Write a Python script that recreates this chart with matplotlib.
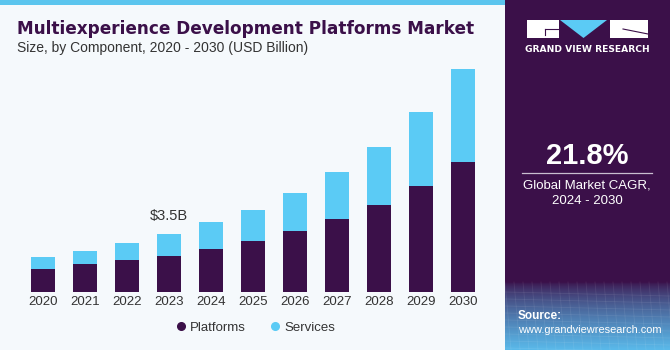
# grafico de barras empilhadas - mercado de plataformas multiexperiencia
import numpy as np
import matplotlib
matplotlib.use('Agg')
import matplotlib.pyplot as plt
from matplotlib.lines import Line2D
from matplotlib.patches import Rectangle, Polygon

anos = ['2020', '2021', '2022', '2023', '2024', '2025', '2026', '2027', '2028', '2029', '2030']
plataformas = [1.37, 1.67, 1.91, 2.17, 2.58, 3.08, 3.66, 4.37, 5.23, 6.38, 7.84]
servicos = [0.74, 0.79, 1.03, 1.33, 1.62, 1.85, 2.28, 2.83, 3.52, 4.46, 5.58]
destaque_ano = '2023'
destaque_txt = '\\$3.5B'
cagr = '21.8%'

roxo = '#3b1049'
azul = '#5bcbf5'
fundo = '#f5f9fc'
cinza = '#333333'

W, H = 670, 350
fig = plt.figure(figsize=(W / 100, H / 100), dpi=100)
fig.patch.set_facecolor(fundo)

# camada de fundo em pixels (painel lateral, faixa do topo)
bg = fig.add_axes([0, 0, 1, 1])
bg.set_xlim(0, W)
bg.set_ylim(H, 0)
bg.axis('off')
bg.add_patch(Rectangle((0, 0), 505, 5, color='#5bc5ee', lw=0))
bg.add_patch(Rectangle((505, 0), W - 505, H, color=roxo, lw=0))
# gradiente da parte de baixo do painel
grad = np.linspace(0, 1, 100).reshape(-1, 1)
c0 = np.array(matplotlib.colors.to_rgb(roxo))
c1 = np.array(matplotlib.colors.to_rgb('#5ab9ea'))
img = c0 + (c1 - c0) * grad[:, :, None] ** 0.7
bg.imshow(img, extent=[505, W, H, 282], aspect='auto', zorder=1)
for yy in np.arange(292, 350, 7):
    bg.plot([505, W], [yy, yy + 4], color='white', alpha=0.08, lw=0.6, zorder=2)
for xx in np.arange(505, W, 9):
    bg.plot([xx, xx + 6], [282, H], color='white', alpha=0.08, lw=0.6, zorder=2)
bg.set_xlim(0, W)
bg.set_ylim(H, 0)

# logo
bg.add_patch(Rectangle((527, 20), 32, 18, color='white', lw=0, zorder=3))
bg.plot([545, 559], [29, 29], color=roxo, lw=0.8, zorder=4)
bg.plot([545, 545], [29, 35], color=roxo, lw=0.8, zorder=4)
bg.add_patch(Polygon([[560, 20], [607, 20], [583.5, 38]], color=azul, lw=0, zorder=3))
bg.add_patch(Rectangle((610, 20), 38, 18, color='white', lw=0, zorder=3))
bg.plot([623, 648], [29, 34], color=roxo, lw=0.8, zorder=4)
bg.text(587.5, 50, 'GRAND VIEW RESEARCH', color='white', fontsize=6.6, fontweight='bold',
        ha='center', va='center', family='DejaVu Sans', zorder=4)

bg.text(587, 156, cagr, color='white', fontsize=21, fontweight='bold', ha='center', va='center',
        family='Liberation Sans', zorder=4)
bg.plot([522, 652], [173.3, 173.3], color='#c9bfd0', lw=0.9, zorder=4)
bg.text(587, 185, 'Global Market CAGR,', color='white', fontsize=9.5, ha='center', va='center',
        family='Liberation Sans', zorder=4)
bg.text(587, 201, '2024 - 2030', color='white', fontsize=9.5, ha='center', va='center',
        family='Liberation Sans', zorder=4)
bg.text(518, 316, 'Source:', color='white', fontsize=8.5, fontweight='bold', ha='left', va='center',
        family='Liberation Sans', zorder=4)
bg.text(518, 330, 'www.grandviewresearch.com', color='white', fontsize=7.9, ha='left', va='center',
        family='Liberation Sans', zorder=4)

# titulos
bg.text(17, 29, 'Multiexperience Development Platforms Market', color=roxo, fontsize=12.2,
        fontweight='heavy', ha='left', va='center', family='DejaVu Sans', zorder=4)
bg.text(17, 48, 'Size, by Component, 2020 - 2030 (USD Billion)', color=cinza, fontsize=10,
        ha='left', va='center', family='Liberation Sans', zorder=4)

# grafico principal
ymax = 14.0
ax = fig.add_axes([22 / W, 58.3 / H, 462 / W, 232.2 / H])
ax.set_facecolor('none')
x = np.arange(len(anos))
ax.bar(x, plataformas, width=0.58, color=roxo, label='Platforms', zorder=3)
ax.bar(x, servicos, width=0.58, bottom=plataformas, color=azul, label='Services', zorder=3)
ax.set_xlim(-0.5, len(anos) - 0.5)
ax.set_ylim(0, ymax)
ax.set_xticks(x)
ax.set_xticklabels(anos, fontsize=9.5, color=cinza, family='Liberation Sans')
ax.tick_params(axis='x', length=0, pad=3)
ax.set_yticks([])
for s in ax.spines.values():
    s.set_visible(False)

i = anos.index(destaque_ano)
ax.annotate(destaque_txt, (x[i], plataformas[i] + servicos[i]), xytext=(0, 8),
            textcoords='offset points', ha='center', va='bottom', fontsize=10.5, color=cinza,
            family='Liberation Sans')

handles = [Line2D([], [], marker='o', ls='', color=roxo, markersize=5.5),
           Line2D([], [], marker='o', ls='', color=azul, markersize=5.5)]
fig.legend(handles, ['Platforms', 'Services'], loc='center', bbox_to_anchor=(254 / W, 1 - 327.5 / H),
           ncol=2, frameon=False, handletextpad=0.1, columnspacing=1.6, handlelength=1.2,
           prop={'family': 'Liberation Sans', 'size': 9.5})
for t in fig.legends[0].get_texts():
    t.set_color(cinza)

fig.savefig('out.png', dpi=100, facecolor=fig.get_facecolor())
